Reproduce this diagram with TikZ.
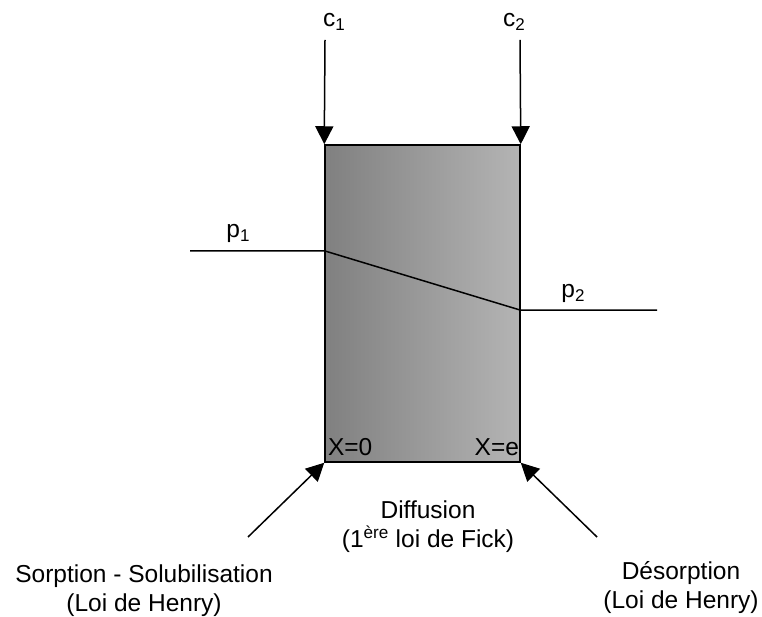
\documentclass[tikz,border=0pt]{standalone}
\usepackage{fontspec}
\setmainfont{Liberation Sans}
\usepackage{tikz}
\usetikzlibrary{arrows.meta, positioning}
\definecolor{darkgrey}{RGB}{128, 128, 128}
\definecolor{lightgrey}{RGB}{180, 180, 180}
\newcommand{\lowidx}[1]{\raisebox{-0.35ex}{\fontsize{17}{17}\selectfont #1}}

\begin{document}
\begin{tikzpicture}[x=1pt, y=-1pt, line width=1.5pt,
    lbl/.style={font=\fontsize{24.5}{29}\selectfont, align=center, inner sep=0pt},
    flux/.style={-{Triangle[width=18pt, length=18pt]}}]
  \useasboundingbox (0,0) rectangle (762,617);

  % membrane
  \node[draw, minimum width=195pt, minimum height=317pt, inner sep=0pt,
        left color=darkgrey, right color=lightgrey] (membrane) at (422.5,303.5) {};

  % concentrations
  \node[lbl] (c1) at (334,22) {c\lowidx{1}};
  \node[lbl] (c2) at (514,22) {c\lowidx{2}};
  \coordinate (c1top) at (325,40);
  \coordinate (c2top) at (520,40);
  \draw[flux] (c1top) -- (membrane.north west);
  \draw[flux] (c2top) -- (membrane.north east);

  % pressure profile
  \coordinate (p1start) at (190,251);
  \coordinate (p1in) at (325,251);
  \coordinate (p2out) at (520,310);
  \coordinate (p2end) at (657,310);
  \draw (p1start) -- (p1in) -- (p2out) -- (p2end);
  \node[lbl] (p1) at (238,233) {p\lowidx{1}};
  \node[lbl] (p2) at (573,293) {p\lowidx{2}};

  \node[lbl, anchor=base west] (x0) at ([xshift=3pt, yshift=7pt]membrane.south west) {X=0};
  \node[lbl, anchor=base east] (xe) at ([xshift=-1pt, yshift=7pt]membrane.south east) {X=e};

  % mechanisms
  \node[lbl] (diff) at (428,527) {Diffusion\\(1\textsuperscript{ère} loi de Fick)};
  \node[lbl] (sorp) at (144,591) {Sorption - Solubilisation\\(Loi de Henry)};
  \node[lbl] (desorp) at (681,588) {Désorption\\(Loi de Henry)};
  \coordinate (sorptail) at (248,537);
  \coordinate (desorptail) at (597,537);
  \draw[flux] (sorptail) -- (membrane.south west);
  \draw[flux] (desorptail) -- (membrane.south east);
\end{tikzpicture}
\end{document}
